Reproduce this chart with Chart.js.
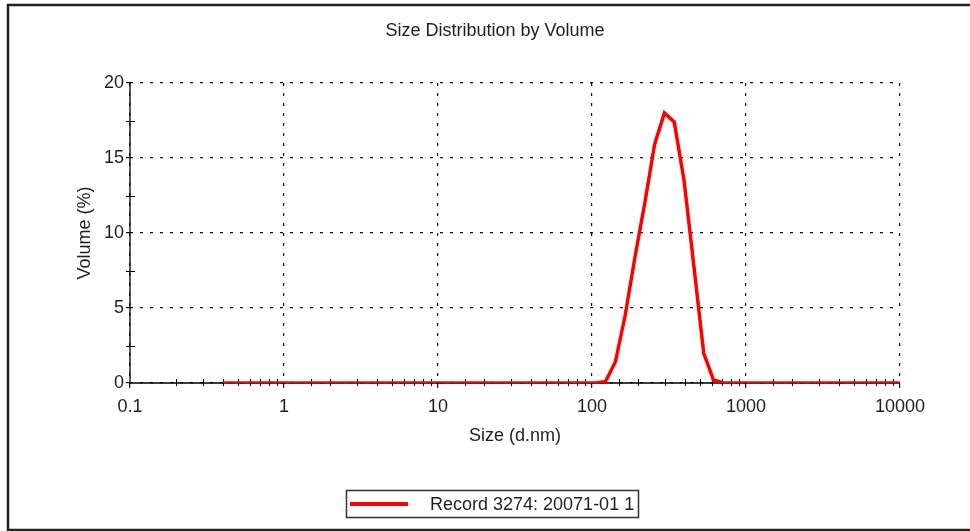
<!DOCTYPE html>
<html>
<head>
<meta charset="utf-8">
<title>Size Distribution by Volume</title>
<script src="https://cdn.jsdelivr.net/npm/chart.js@4.4.1/dist/chart.umd.min.js"></script>
<style>
  html, body { margin: 0; padding: 0; background: #fff; }
  #wrap { width: 970px; height: 531px; }
</style>
</head>
<body>
<div id="wrap"><canvas id="sizeChart" width="970" height="531"></canvas></div>
<script>
// size classes (d.nm) and volume (%) for each class
const sizes = [
  0.4, 0.4632, 0.5365, 0.6213, 0.7195, 0.8332, 0.9649,
  1.117, 1.294, 1.499, 1.736, 2.010, 2.328, 2.696, 3.122, 3.615, 4.187, 4.849, 5.615, 6.503, 7.531, 8.721,
  10.10, 11.70, 13.54, 15.69, 18.17, 21.04, 24.36, 28.21, 32.67, 37.84, 43.82, 50.75, 58.77, 68.06, 78.82, 91.28,
  105.7, 122.4, 141.8, 164.2, 190.1, 220.2, 255.0, 295.3, 342.0, 396.1, 458.7, 531.2, 615.1, 712.4, 825.0, 955.4,
  1106, 1281, 1484, 1718, 1990, 2305, 2669, 3091, 3580, 4145, 4801, 5560, 6439, 7456, 8635, 10000
];
const volumes = [
  0, 0, 0, 0, 0, 0, 0,
  0, 0, 0, 0, 0, 0, 0, 0, 0, 0, 0, 0, 0, 0, 0,
  0, 0, 0, 0, 0, 0, 0, 0, 0, 0, 0, 0, 0, 0, 0, 0,
  0, 0.1, 1.4, 4.5, 8.4, 12.0, 15.9, 18.0, 17.4, 13.5, 7.8, 2.0, 0.2, 0, 0, 0,
  0, 0, 0, 0, 0, 0, 0, 0, 0, 0, 0, 0, 0, 0, 0, 0
];
const seriesLabel = 'Record 3274: 20071-01 1';
const chartTitle = 'Size Distribution by Volume';
const xTicks = [0.1, 1, 10, 100, 1000, 10000];
const yTicks = [0, 5, 10, 15, 20];

const FONT = "'Liberation Sans', Arial, sans-serif";
const TEXT = '#1e1e1e';

function isDecade(v) {
  return xTicks.some(t => Math.abs(Math.log10(v) - Math.log10(t)) < 1e-6);
}

// white page, outer frame (left, top, bottom edges) and the heading
const framePlugin = {
  id: 'frame',
  beforeDraw(chart) {
    const c = chart.ctx;
    c.save();
    c.fillStyle = '#fff';
    c.fillRect(0, 0, chart.width, chart.height);
    c.strokeStyle = '#222';
    c.lineWidth = 2.5;
    c.beginPath();
    c.moveTo(970, 5);
    c.lineTo(8, 5);
    c.lineTo(8, 530);
    c.lineTo(970, 530);
    c.stroke();
    c.fillStyle = TEXT;
    c.font = '18px ' + FONT;
    c.textAlign = 'center';
    c.textBaseline = 'middle';
    c.fillText(chartTitle, 495, 31);
    c.restore();
  }
};

// solid axis lines plus small minor tick marks crossing them
const axesPlugin = {
  id: 'axesLines',
  beforeDatasetsDraw(chart) {
    const c = chart.ctx;
    const x = chart.scales.x, y = chart.scales.y;
    const area = chart.chartArea;
    c.save();
    c.strokeStyle = '#000';
    c.lineWidth = 1.3;
    c.beginPath();
    c.moveTo(area.left, area.top);
    c.lineTo(area.left, area.bottom);
    c.lineTo(area.right, area.bottom);
    c.stroke();
    c.lineWidth = 1;
    c.beginPath();
    x.ticks.forEach(t => {
      if (isDecade(t.value)) return;
      const px = Math.round(x.getPixelForValue(t.value)) + 0.5;
      c.moveTo(px, area.bottom - 4);
      c.lineTo(px, area.bottom + 3);
    });
    for (let i = 0; i < yTicks.length - 1; i++) {
      const py = Math.round(y.getPixelForValue((yTicks[i] + yTicks[i + 1]) / 2)) + 0.5;
      c.moveTo(area.left - 4, py);
      c.lineTo(area.left + 5, py);
    }
    c.stroke();
    c.restore();
  }
};

// boxed legend under the axis title
const boxLegendPlugin = {
  id: 'boxLegend',
  afterDraw(chart) {
    const c = chart.ctx;
    const ds = chart.data.datasets[0];
    c.save();
    c.strokeStyle = '#333';
    c.lineWidth = 1.5;
    c.strokeRect(346.5, 490.5, 292, 27);
    c.strokeStyle = ds.borderColor;
    c.lineWidth = 4;
    c.beginPath();
    c.moveTo(350, 504);
    c.lineTo(408, 504);
    c.stroke();
    c.fillStyle = TEXT;
    c.font = '18px ' + FONT;
    c.textBaseline = 'middle';
    c.fillText(ds.label, 430, 505);
    c.restore();
  }
};

new Chart(document.getElementById('sizeChart'), {
  type: 'line',
  data: {
    datasets: [{
      label: seriesLabel,
      data: sizes.map((s, i) => ({ x: s, y: volumes[i] })),
      borderColor: '#ff0000',
      backgroundColor: '#ff0000',
      borderWidth: 3.5,
      pointRadius: 0,
      tension: 0,
      fill: false
    }]
  },
  options: {
    responsive: false,
    animation: false,
    layout: { padding: { left: 0, right: 70, top: 83, bottom: 0 } },
    plugins: {
      legend: { display: false },
      tooltip: { enabled: false },
      title: { display: false }
    },
    scales: {
      x: {
        type: 'logarithmic',
        min: 0.1,
        max: 10000,
        afterFit(scale) { scale.height = 148; },
        border: { color: '#000', width: 0, dash: [3, 7] },
        grid: {
          color: ctx => (ctx.tick && isDecade(ctx.tick.value)) ? '#111' : 'rgba(0,0,0,0)',
          tickBorderDash: [],
          tickLength: 5,
          lineWidth: 1.2
        },
        ticks: {
          autoSkip: false,
          maxRotation: 0,
          color: TEXT,
          padding: 8,
          font: { family: FONT, size: 18 },
          callback: v => isDecade(v) ? String(Number(v.toPrecision(6))) : ''
        },
        title: {
          display: true,
          text: 'Size (d.nm)',
          color: TEXT,
          font: { family: FONT, size: 18 },
          padding: { top: 0, bottom: 84 }
        }
      },
      y: {
        min: 0,
        max: 20,
        afterFit(scale) { scale.width = 130; },
        afterBuildTicks(scale) { scale.ticks = yTicks.map(v => ({ value: v })); },
        border: { color: '#000', width: 0, dash: [3, 7] },
        grid: {
          color: '#111',
          tickBorderDash: [],
          tickLength: 4,
          lineWidth: 1.2
        },
        ticks: {
          color: TEXT,
          padding: 2,
          font: { family: FONT, size: 18 }
        },
        title: {
          display: true,
          text: 'Volume (%)',
          color: TEXT,
          font: { family: FONT, size: 18 },
          padding: { top: 74, bottom: 0 }
        }
      }
    }
  },
  plugins: [framePlugin, axesPlugin, boxLegendPlugin]
});
</script>
</body>
</html>
